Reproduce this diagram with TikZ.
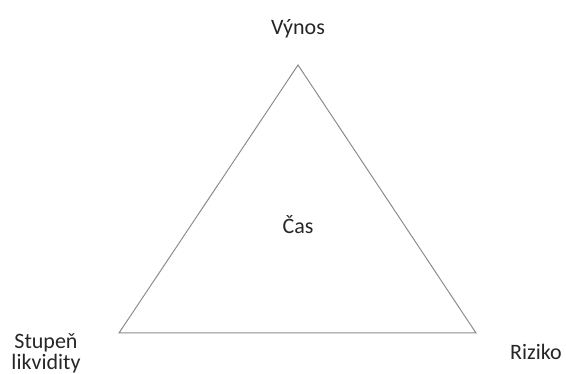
\documentclass[tikz,border=0pt]{standalone}
\usepackage{fontspec}
\setmainfont{Carlito}
\begin{document}
\begin{tikzpicture}[x=1pt,y=-1pt,
  lbl/.style={font=\fontsize{22}{26}\selectfont, text=black!85, inner sep=0pt, anchor=base},
  edge/.style={draw=black!45, line width=1pt}]
\useasboundingbox (0,0) rectangle (566,374);
\coordinate (top) at (298,65);
\coordinate (bl) at (119,333);
\coordinate (br) at (476,333);
\draw[edge, line join=miter] (top) -- (bl) -- (br) -- cycle;
\node[lbl] (vynos) at (298,35) {Výnos};
\node[lbl] (cas) at (298,234) {Čas};
\node[lbl] (stupen) at (46,349) {Stupeň};
\node[lbl] (likv) at (46,370) {likvidity};
\node[lbl] (riziko) at (536,360) {Riziko};
\end{tikzpicture}
\end{document}
